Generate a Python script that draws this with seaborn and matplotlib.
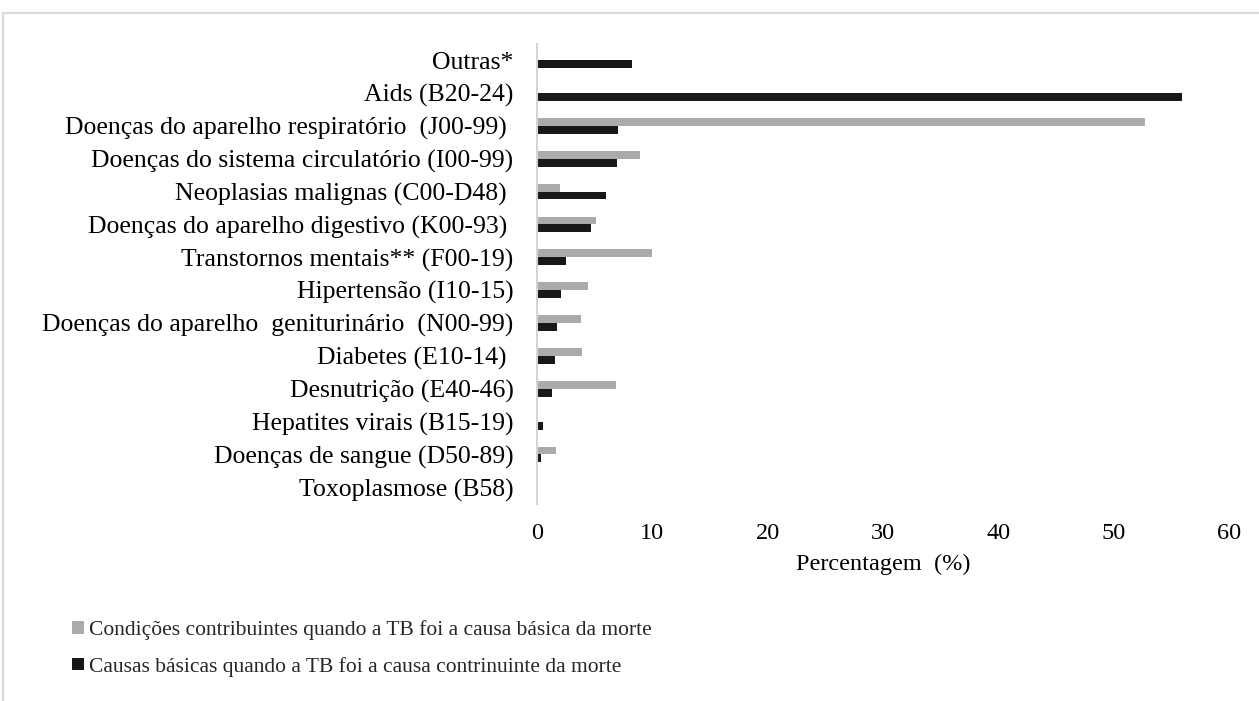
import matplotlib
matplotlib.use("Agg")
import matplotlib.pyplot as plt
import seaborn as sns
import pandas as pd
from matplotlib.lines import Line2D

categories = [
    "Outras*",
    "Aids (B20-24)",
    "Doenças do aparelho respiratório  (J00-99) ",
    "Doenças do sistema circulatório (I00-99)",
    "Neoplasias malignas (C00-D48) ",
    "Doenças do aparelho digestivo (K00-93) ",
    "Transtornos mentais** (F00-19)",
    "Hipertensão (I10-15)",
    "Doenças do aparelho  geniturinário  (N00-99)",
    "Diabetes (E10-14) ",
    "Desnutrição (E40-46)",
    "Hepatites virais (B15-19)",
    "Doenças de sangue (D50-89)",
    "Toxoplasmose (B58)",
]
series_names = [
    "Condições contribuintes quando a TB foi a causa básica da morte",
    "Causas básicas quando a TB foi a causa contrinuinte da morte",
]
contrib_values = [0, 0, 52.7, 8.9, 2.0, 5.1, 10.0, 4.4, 3.8, 3.9, 6.85, 0.1, 1.65, 0.1]
basic_values = [8.2, 55.9, 7.05, 6.95, 6.0, 4.7, 2.55, 2.1, 1.7, 1.6, 1.3, 0.55, 0.35, 0.0]
x_ticks = [0, 10, 20, 30, 40, 50, 60]

df = pd.DataFrame({
    "categoria": categories * 2,
    "valor": contrib_values + basic_values,
    "serie": [series_names[0]] * len(categories) + [series_names[1]] * len(categories),
})

sns.set_theme(style="white")
plt.rcParams["font.family"] = ["Liberation Serif", "DejaVu Serif"]

fig = plt.figure(figsize=(12.59, 7.01), dpi=100)
ax = fig.add_axes([537 / 1259, 1 - 503.8 / 701, (1229 - 537) / 1259, (503.8 - 43.6) / 701])

sns.barplot(
    data=df, x="valor", y="categoria", hue="serie", order=categories,
    hue_order=series_names, palette=["#AEAAA9", "#181818"], orient="h",
    width=0.48, gap=0, ax=ax, linewidth=0,
)

ax.set_xlim(0, 60)
ax.set_xticks(x_ticks)
ax.set_xticklabels([str(t) for t in x_ticks])
ax.set_ylabel("")
ax.set_xlabel("Percentagem  (%)", fontsize=17.5, labelpad=7, color="black")
ax.tick_params(axis="x", length=0, pad=14, labelsize=17.5, labelcolor="black")
ax.tick_params(axis="y", length=0, pad=17, labelsize=18.5, labelcolor="black")
for s in ["top", "right", "bottom"]:
    ax.spines[s].set_visible(False)
ax.spines["left"].set_color("#D4D4D4")
ax.spines["left"].set_linewidth(1.5)
ax.grid(False)

handles, labels = ax.get_legend_handles_labels()
ax.get_legend().remove()
fig.legend(
    handles, labels, loc="upper left", bbox_to_anchor=(72 / 1259, 1 - 620 / 701),
    frameon=False, fontsize=15.5, handlelength=0.55, handleheight=0.55,
    handletextpad=0.25, labelspacing=0.78, borderaxespad=0, borderpad=0,
)

fig.add_artist(Line2D([3 / 1259, 1], [1 - 13 / 701, 1 - 13 / 701], color="#D9D9D9", lw=1.5))
fig.add_artist(Line2D([3 / 1259, 3 / 1259], [0, 1 - 13 / 701], color="#D9D9D9", lw=1.5))

fig.savefig("out.png", dpi=100)
